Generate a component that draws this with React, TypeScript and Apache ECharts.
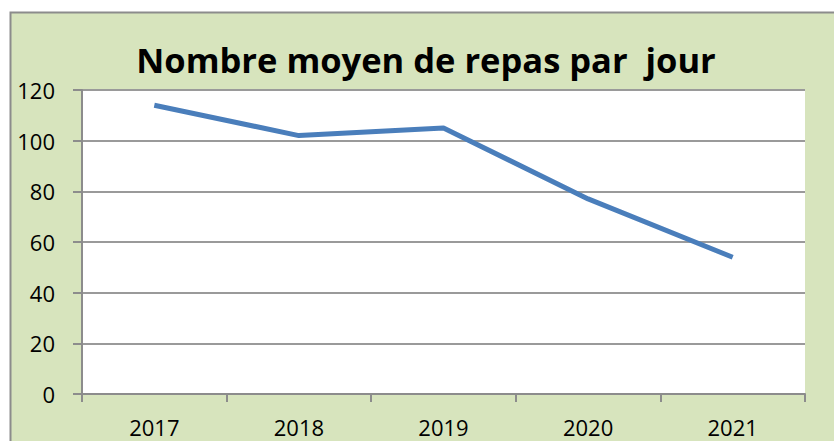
import React, { useEffect, useRef } from "react";
import * as echarts from "echarts";

const years = ["2017", "2018", "2019", "2020", "2021"];
const meals = [114, 102, 105, 77, 54];
const titleText = "Nombre moyen de repas par  jour";

export default function App() {
  const ref = useRef<HTMLDivElement>(null);
  useEffect(() => {
    const chart = echarts.init(ref.current!, undefined, { renderer: "svg" });
    chart.setOption({
      animation: false,
      backgroundColor: "#ffffff",
      graphic: [
        {
          type: "rect",
          z: -10,
          shape: { x: 10.5, y: 12.5, width: 840, height: 450 },
          style: { fill: "#D7E4BD", stroke: "#8C8C8C", lineWidth: 2 },
        },
        {
          type: "text",
          x: 426,
          y: 59,
          style: {
            text: titleText,
            font: "bold 34.5px 'Open Sans'",
            fill: "#000",
            textAlign: "center",
            textVerticalAlign: "middle",
          },
        },
      ],
      grid: {
        left: 82,
        top: 90,
        right: 29,
        bottom: 47,
        show: true,
        backgroundColor: "#ffffff",
        borderWidth: 0,
      },
      xAxis: {
        type: "category",
        data: years,
        boundaryGap: true,
        axisLine: { show: true, lineStyle: { color: "#8C8C8C", width: 2 } },
        axisTick: { show: true, length: 8, lineStyle: { color: "#8C8C8C", width: 2 } },
        axisLabel: { margin: 22, fontSize: 22, fontFamily: "Open Sans", color: "#000" },
      },
      yAxis: {
        type: "value",
        min: 0,
        max: 120,
        interval: 20,
        axisLine: { show: true, lineStyle: { color: "#8C8C8C", width: 2 } },
        axisTick: { show: true, length: 9, lineStyle: { color: "#8C8C8C", width: 2 } },
        splitLine: { show: true, lineStyle: { color: "#9A9A9A", width: 2 } },
        axisLabel: { margin: 27, fontSize: 22, fontFamily: "Open Sans", color: "#000" },
      },
      series: [
        {
          type: "line",
          data: meals,
          symbol: "none",
          lineStyle: { color: "#4A7EBB", width: 5 },
        },
      ],
    });
    return () => chart.dispose();
  }, []);
  return (
    <div
      ref={ref}
      style={{ position: "absolute", left: 0, top: 0, width: 834, height: 441 }}
    />
  );
}
